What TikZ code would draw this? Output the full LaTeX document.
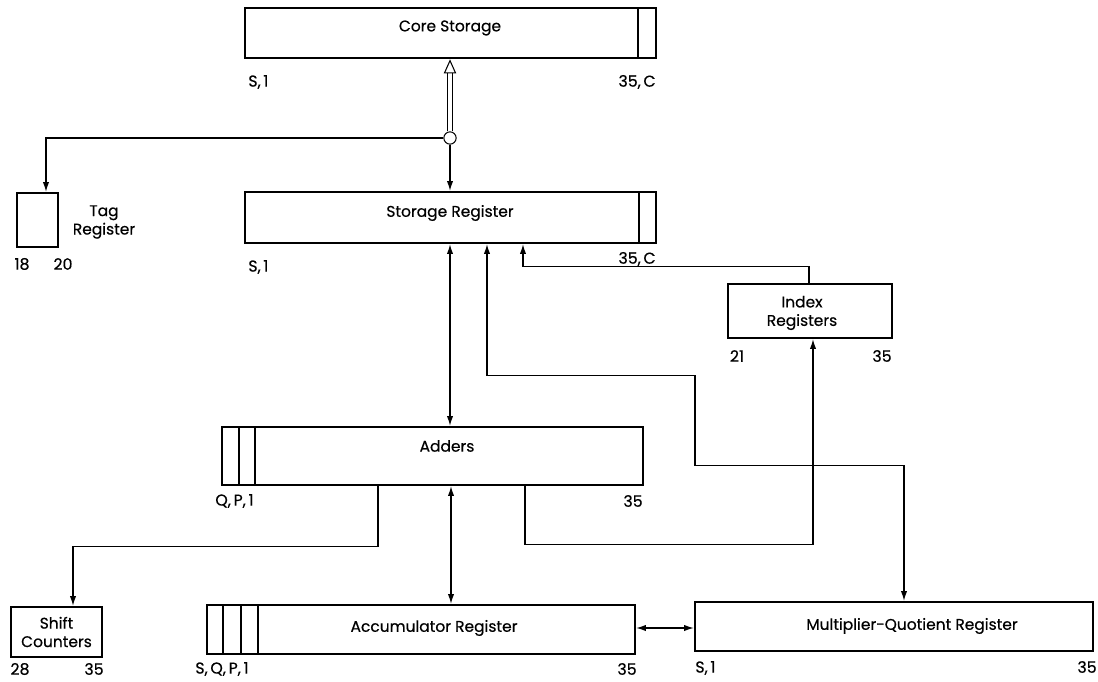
\documentclass[tikz,border=0pt]{standalone}
\usepackage{fontspec}
\setmainfont{Poppins}[FakeBold=0.5]
\usetikzlibrary{arrows.meta, positioning}

\begin{document}
\begin{tikzpicture}[x=0.02cm, y=-0.02cm, >={Latex[length=5.5pt,width=3.6pt]},
		reg/.style={rectangle, draw=black, line width=1.5pt, inner sep=0pt, align=center, font=\fontsize{8.8}{10.5}\selectfont},
		txt/.style={inner sep=0pt, align=center, font=\fontsize{8.8}{10.5}\selectfont},
		bit/.style={inner sep=0pt, font=\fontsize{9}{10}\selectfont},
		wire/.style={line width=0.6pt},
		bus/.style={double, double distance=2.6pt, line width=0.6pt, -{Triangle[open, length=8pt, width=7pt]}},
		cell/.style={line width=0.6pt}]
		
		\useasboundingbox (0,0) rectangle (1098,682);
		
		% Registers
		\node[reg, minimum width=8.22cm, minimum height=1cm] (core) at (450.5,33) {};
		\node[reg, minimum width=8.22cm, minimum height=1.02cm] (sreg) at (450.5,217.5) {};
		\node[reg, minimum width=0.82cm, minimum height=1.08cm] (tag) at (37.5,220) {};
		\node[reg, minimum width=3.28cm, minimum height=1.08cm] (index) at (810,311) {};
		\node[reg, minimum width=8.42cm, minimum height=1.16cm] (adders) at (432.5,456) {};
		\node[reg, minimum width=1.82cm, minimum height=1cm] (shift) at (56.5,632) {Shift\\Counters};
		\node[reg, minimum width=8.56cm, minimum height=0.98cm] (acc) at (421,629.5) {};
		\node[reg, minimum width=7.96cm, minimum height=0.98cm] (mq) at (894,626.5) {};
		
		% Names
		\node[txt] at (450,28) {Core Storage};
		\node[txt] at (450,213) {Storage Register};
		\node[txt] at (104,222) {Tag\\Register};
		\node[txt] at (802,313) {Index\\Registers};
		\node[txt] at (447,446) {Adders};
		\node[txt] at (434,628) {Accumulator Register};
		\node[txt] at (912,626) {Multiplier-Quotient Register};
		
		% Bit cells
		\draw[cell, line width=1pt] (638,8) -- (638,58);
		\draw[cell, line width=1pt] (639,192) -- (639,243);
		\foreach \x in {239,255} \draw[cell] (\x,427) -- (\x,485);
		\foreach \x in {223,241,258} \draw[cell] (\x,605) -- (\x,654);
		
		% Bit numbers
		\node[bit, anchor=west] at (248,82) {S,\,1};
		\node[bit, anchor=east] at (656,82) {35,\,C};
		\node[bit, anchor=west] at (248,267) {S,\,1};
		\node[bit, anchor=east] at (656,259) {35,\,C};
		\node[bit] at (22,264) {18};
		\node[bit] at (63,264) {20};
		\node[bit] at (737,356) {21};
		\node[bit] at (882,356) {35};
		\node[bit, anchor=west] at (215,501) {Q,\,P,\,1};
		\node[bit, anchor=east] at (643,501) {35};
		\node[bit] at (20,669) {28};
		\node[bit] at (94,669) {35};
		\node[bit, anchor=west] at (195,669) {S,\,Q,\,P,\,1};
		\node[bit, anchor=east] at (637,669) {35};
		\node[bit, anchor=west] at (695,668) {S,\,1};
		\node[bit, anchor=east] at (1097,667) {35};
		
		% Core storage path
		\node[circle, draw, fill=white, line width=0.6pt, inner sep=0pt, minimum size=7pt] (tap) at (450,138) {};
		\draw[bus] (tap.north) -- (tap |- core.south);
		\draw[wire, ->] (tap.west) -| ([xshift=0.17cm]tag.north);
		\draw[wire, ->] (tap.south) -- (tap |- sreg.north);
		
		% Storage register <-> adders <-> accumulator
		\draw[wire, <->] (tap |- sreg.south) -- (tap |- adders.north);
		\draw[wire, <->] ([xshift=0.02cm]tap |- adders.south) -- ([xshift=0.02cm]tap |- acc.north);
		\draw[wire, <->] (acc.east |- 0,628) -- (mq.west |- 0,628);
		
		% Adders -> shift counters, index registers
		\draw[wire, ->] ([xshift=-1.09cm]adders.south) -- ++(0,60) -| ([xshift=0.33cm]shift.north);
		\draw[wire, ->] ([xshift=1.85cm]adders.south) -- ++(0,58) -| ([xshift=0.06cm]index.south);
		
		% Index registers -> storage register
		\draw[wire, ->] ([xshift=-0.02cm]index.north) -- ++(0,-16) -| ([xshift=1.45cm]sreg.south);
		
		% Storage register <-> MQ register
		\draw[wire, <->] ([xshift=0.73cm]sreg.south) -- ++(0,131) -| ++(208,90) -| ([xshift=0.2cm]mq.north);
		
	\end{tikzpicture}
\end{document}
